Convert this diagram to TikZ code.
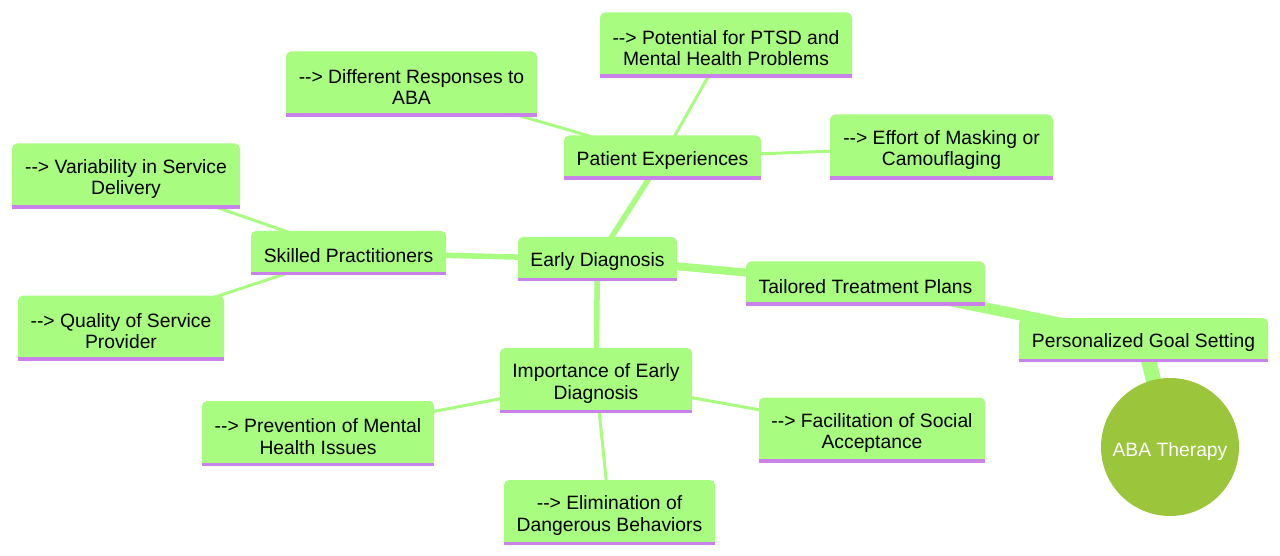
\documentclass[tikz,border=0pt]{standalone}
\usepackage{fontspec}
\setmainfont{Liberation Sans}
\usetikzlibrary{backgrounds}
\definecolor{boxgreen}{HTML}{A8FC80}
\definecolor{barpurple}{HTML}{C882EA}
\definecolor{rootgreen}{HTML}{9BC53B}
\definecolor{edgegreen}{HTML}{A8FC80}
\newcommand{\mmfont}{\fontsize{19.3}{21.5}\selectfont}
\newcommand{\arr}{-{}-{}>}
\tikzset{
  mm/.style={fill=boxgreen, rounded corners=5pt, inner sep=0pt, minimum height=44pt},
  mm2/.style={mm, minimum height=65pt},
  txt/.style={font=\mmfont, align=center, yshift=-3pt},
  bar/.style={draw=barpurple, line width=3.5pt},
  rootnode/.style={circle, fill=rootgreen, minimum size=138pt, inner sep=0pt},
  e1/.style={draw=edgegreen, line width=15pt},
  e2/.style={draw=edgegreen, line width=11pt},
  e3/.style={draw=edgegreen, line width=8pt},
  e4/.style={draw=edgegreen, line width=5.5pt},
  e5/.style={draw=edgegreen, line width=3pt}
}
\begin{document}
\begin{tikzpicture}[x=1pt,y=-1pt]
\useasboundingbox (0,0) rectangle (1280,556);
\node[rootnode, label={[txt, text=white, yshift=-1.5pt]center:ABA Therapy}] (aba) at (1170,447) {};
\node[mm, minimum width=249pt, label={[txt]center:Personalized Goal Setting}] (pg) at (1143.5,340) {};
\node[mm, minimum width=239pt, label={[txt]center:Tailored Treatment Plans}] (tt) at (865.5,283.5) {};
\node[mm, minimum width=159pt, label={[txt]center:Early Diagnosis}] (ed) at (597.5,259) {};
\node[mm, minimum width=197pt, label={[txt]center:Patient Experiences}] (pe) at (662.5,157.5) {};
\node[mm, minimum width=195pt, label={[txt]center:Skilled Practitioners}] (sp) at (348.5,253) {};
\node[mm2, minimum width=192pt, label={[txt]center:{Importance of Early\\Diagnosis}}] (ie) at (596,380.5) {};
\node[mm2, minimum width=251pt, label={[txt]center:{\arr{} Different Responses to\\ABA}}] (dr) at (411.5,84) {};
\node[mm2, minimum width=252pt, label={[txt]center:{\arr{} Potential for PTSD and\\Mental Health Problems}}] (pt) at (726,45) {};
\node[mm2, minimum width=223pt, label={[txt]center:{\arr{} Effort of Masking or\\Camouflaging}}] (em) at (941.5,147) {};
\node[mm2, minimum width=228pt, label={[txt]center:{\arr{} Variability in Service\\Delivery}}] (vs) at (126,176) {};
\node[mm2, minimum width=206pt, label={[txt]center:{\arr{} Quality of Service\\Provider}}] (qs) at (121,328) {};
\node[mm2, minimum width=232pt, label={[txt]center:{\arr{} Prevention of Mental\\Health Issues}}] (pm) at (318,433.5) {};
\node[mm2, minimum width=226pt, label={[txt]center:{\arr{} Facilitation of Social\\Acceptance}}] (fs) at (872,430) {};
\node[mm2, minimum width=211pt, label={[txt]center:{\arr{} Elimination of\\Dangerous Behaviors}}] (el) at (609.5,512.5) {};
\foreach \n in {pg,tt,ed,pe,sp,ie,dr,pt,em,vs,qs,pm,fs,el}{
  \fill[boxgreen] ([yshift=8pt]\n.south west) rectangle (\n.south east);
  \draw[bar] ([yshift=1.75pt]\n.south west) -- ([yshift=1.75pt]\n.south east);
}
\begin{scope}[on background layer]
\draw[e1] (aba.center) -- (pg.center);
\draw[e2] (pg.center) -- (tt.center);
\draw[e3] (tt.center) -- (ed.center);
\draw[e4] (ed.center) -- (pe.center);
\draw[e4] (ed.center) -- (sp.center);
\draw[e4] (ed.center) -- (ie.center);
\draw[e5] (pe.center) -- (dr.center);
\draw[e5] (pe.center) -- (pt.center);
\draw[e5] (pe.center) -- (em.center);
\draw[e5] (sp.center) -- (vs.center);
\draw[e5] (sp.center) -- (qs.center);
\draw[e5] (ie.center) -- (pm.center);
\draw[e5] (ie.center) -- (fs.center);
\draw[e5] (ie.center) -- (el.center);
\end{scope}
\end{tikzpicture}
\end{document}
